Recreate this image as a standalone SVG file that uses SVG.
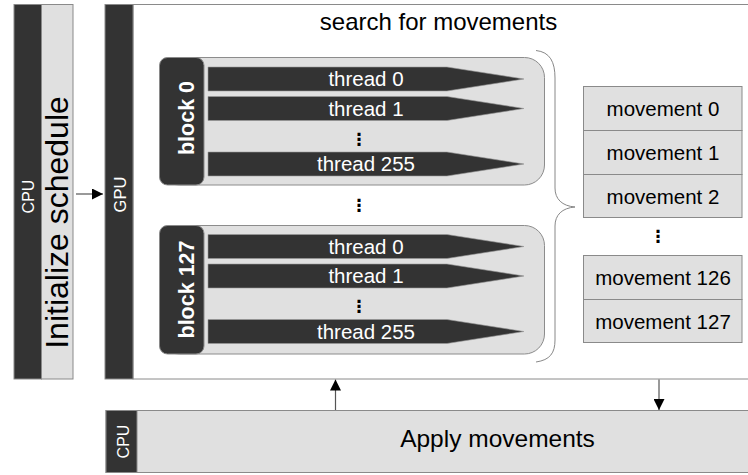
<svg xmlns="http://www.w3.org/2000/svg" width="748" height="475" viewBox="0 0 748 475">
  <defs>
    <style>
      .dark { fill: #333333; stroke: #8a8a8a; stroke-width: 1; }
      .light { fill: #e0e0e0; stroke: #8a8a8a; stroke-width: 1; }
      .panel { fill: #ffffff; stroke: #8a8a8a; stroke-width: 1; }
      .blockbg { fill: #e0e0e0; stroke: #8c8c8c; stroke-width: 1; }
      .thread { fill: #333333; stroke: #9a9a9a; stroke-width: 0.6; }
      .txt { font-family: "Liberation Sans", Arial, sans-serif; }
      .wt { fill: #ffffff; }
      .bk { fill: #000000; }
      .dots { font-family: "DejaVu Sans", sans-serif; font-size: 17px; font-weight: bold; fill: #000000; text-anchor: middle; }
      .conn { stroke: #555555; stroke-width: 1.2; fill: none; }
      .brace { stroke: #888888; stroke-width: 1; fill: none; }
    </style>
    <marker id="arrow" viewBox="0 0 10 10" refX="10" refY="5" markerWidth="11" markerHeight="11" markerUnits="userSpaceOnUse" orient="auto">
      <path d="M0,0 L10,5 L0,10 z" fill="#000000"/>
    </marker>
    <!-- one thread bar: rectangle body with a tapering tip -->
    <path id="threadShape" d="M0,0 H239 L316,12 L239,24 H0 Z"/>
  </defs>

  <!-- CPU: initialise schedule -->
  <g id="init-schedule">
    <rect class="dark" x="14" y="4.5" width="27.5" height="374.5"/>
    <rect class="light" x="41.5" y="4.5" width="31.5" height="374.5"/>
    <text class="txt wt" font-size="16" text-anchor="middle" transform="translate(33.5,196.5) rotate(-90)">CPU</text>
    <text class="txt bk" font-size="32" text-anchor="middle" transform="translate(67.5,222.5) rotate(-90)">Initialize schedule</text>
  </g>

  <!-- GPU: search for movements -->
  <g id="gpu-search">
    <rect class="panel" x="133" y="4.5" width="620" height="374.5"/>
    <rect class="dark" x="105" y="4.5" width="28" height="374.5"/>
    <text class="txt wt" font-size="16.5" text-anchor="middle" transform="translate(125.5,194.5) rotate(-90)">GPU</text>
    <text class="txt bk" font-size="24" text-anchor="middle" x="438.5" y="30">search for movements</text>
  </g>

  <!-- thread block 0 -->
  <g id="block-0">
    <rect class="blockbg" x="159.5" y="57.5" width="385" height="127.5" rx="20"/>
    <rect class="dark" x="159.5" y="57.5" width="44.5" height="127.5" rx="8" stroke="none"/>
    <text class="txt wt" font-size="21.5" font-weight="bold" text-anchor="middle" transform="translate(194,118) rotate(-90)">block 0</text>
    <use href="#threadShape" class="thread" x="208" y="67"/>
    <use href="#threadShape" class="thread" x="208" y="96.5"/>
    <use href="#threadShape" class="thread" x="208" y="152"/>
    <g class="txt wt" font-size="20.5" text-anchor="middle">
      <text x="366" y="86">thread 0</text>
      <text x="366" y="115.5">thread 1</text>
      <text x="366" y="171">thread 255</text>
    </g>
    <text class="dots" x="359" y="145">⋮</text>
  </g>

  <text class="dots" x="359" y="211">⋮</text>

  <!-- thread block 127 -->
  <g id="block-127">
    <rect class="blockbg" x="159.5" y="225.5" width="385" height="128.5" rx="20"/>
    <rect class="dark" x="159.5" y="225.5" width="44.5" height="128.5" rx="8" stroke="none"/>
    <text class="txt wt" font-size="21.5" font-weight="bold" text-anchor="middle" transform="translate(194,289.5) rotate(-90)">block 127</text>
    <use href="#threadShape" class="thread" x="208" y="234.5"/>
    <use href="#threadShape" class="thread" x="208" y="264"/>
    <use href="#threadShape" class="thread" x="208" y="319.5"/>
    <g class="txt wt" font-size="20.5" text-anchor="middle">
      <text x="366" y="253.5">thread 0</text>
      <text x="366" y="283">thread 1</text>
      <text x="366" y="338.5">thread 255</text>
    </g>
    <text class="dots" x="359" y="312">⋮</text>
  </g>

  <!-- brace gathering the blocks -->
  <path id="brace" class="brace" d="M536,50.5 C550,52 555,62 555,78 L555,188 C555,199 562,206 575,207 C562,208 555,215 555,226 L555,340 C555,353 550,360 536,362"/>

  <!-- movement list -->
  <g id="movements">
    <g class="light">
      <rect x="583.5" y="86.5" width="158.5" height="44"/>
      <rect x="583.5" y="130.5" width="158.5" height="44"/>
      <rect x="583.5" y="174.5" width="158.5" height="43"/>
      <rect x="583.5" y="255.5" width="158.5" height="44"/>
      <rect x="583.5" y="299.5" width="158.5" height="43"/>
    </g>
    <g class="txt bk" font-size="20.5" text-anchor="middle">
      <text x="663" y="116">movement 0</text>
      <text x="663" y="160">movement 1</text>
      <text x="663" y="203.5">movement 2</text>
      <text x="663" y="285">movement 126</text>
      <text x="663" y="328.5">movement 127</text>
    </g>
    <text class="dots" x="658" y="242">⋮</text>
  </g>

  <!-- CPU: apply movements -->
  <g id="apply-movements">
    <rect class="light" x="106" y="410.5" width="650" height="62"/>
    <rect class="dark" x="106" y="410.5" width="31" height="62"/>
    <text class="txt wt" font-size="16" text-anchor="middle" transform="translate(129,441.5) rotate(-90)">CPU</text>
    <text class="txt bk" font-size="24.5" text-anchor="middle" x="497.5" y="447">Apply movements</text>
  </g>

  <!-- connectors -->
  <g id="connectors">
    <line class="conn" x1="76" y1="194" x2="103" y2="194" marker-end="url(#arrow)"/>
    <line class="conn" x1="335.5" y1="410" x2="335.5" y2="379.5" marker-end="url(#arrow)"/>
    <line class="conn" x1="659" y1="379.5" x2="659" y2="410" marker-end="url(#arrow)"/>
  </g>
</svg>
